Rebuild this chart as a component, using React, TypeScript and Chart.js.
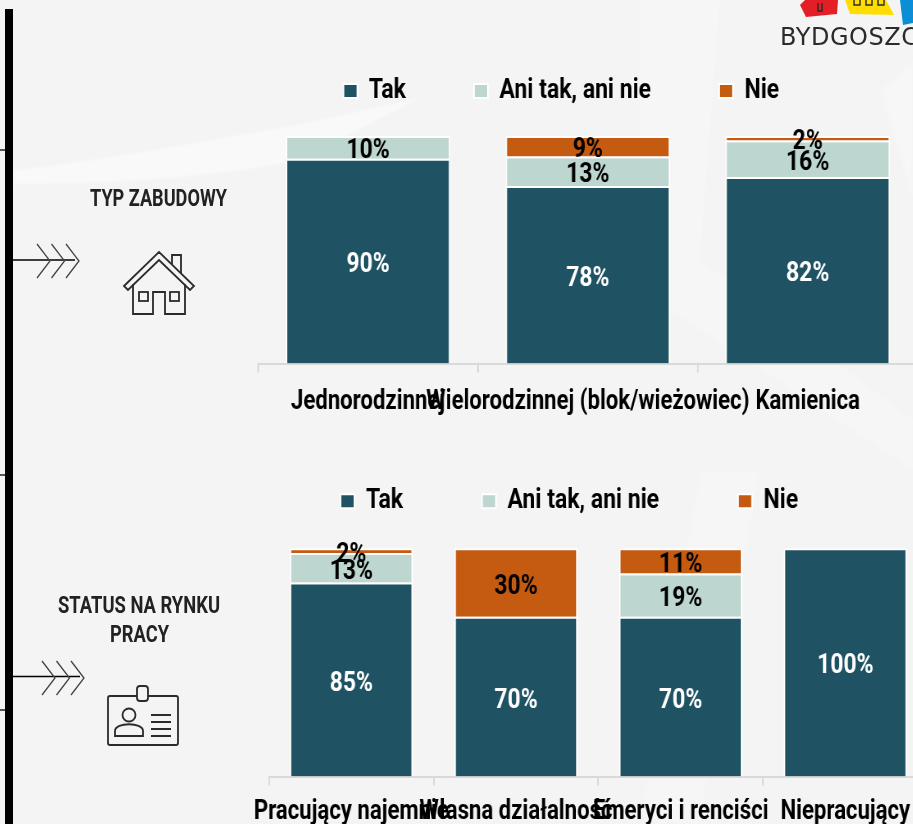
import React, { useEffect, useRef } from "react";
import { Chart, registerables } from "chart.js";

Chart.register(...registerables);

const FONT = 'Roboto, "Liberation Sans", sans-serif';
const K = 0.82; // horizontal squeeze of the whole chart, gives the condensed look of the reference lettering
const seriesNames = ["Tak", "Ani tak, ani nie", "Nie"];
const seriesColors = ["#1F5363", "#BDD6CF", "#C55A11"];

const categoriesA = ["Jednorodzinnej", "Wielorodzinnej (blok/wieżowiec)", "Kamienica"];
const takA = [90, 78, 82];
const aniA = [10, 13, 16];
const nieA = [0, 9, 2];

const categoriesB = ["Pracujący najemnie", "Własna działalność", "Emeryci i renciści", "Niepracujący"];
const takB = [85, 70, 70, 100];
const aniB = [13, 0, 19, 0];
const nieB = [2, 30, 11, 0];

const labelPlugin = {
  id: "segmentLabels",
  afterDatasetsDraw(chart: any) {
    const { ctx } = chart;
    chart.data.datasets.forEach((ds: any, di: number) => {
      chart.getDatasetMeta(di).data.forEach((bar: any, i: number) => {
        const v = ds.data[i];
        if (!v) return;
        ctx.save();
        ctx.font = `700 28px ${FONT}`;
        ctx.textAlign = "center";
        ctx.textBaseline = "middle";
        ctx.fillStyle = di === 0 ? "#ffffff" : "#000000";
        ctx.fillText(`${v}%`, bar.x, (bar.y + bar.base) / 2 + 4);
        ctx.restore();
      });
    });
  },
};

function StackChart(props: {
  categories: string[];
  series: number[][];
  left: number;
  top: number;
  width: number;
  height: number;
  axisGap: number;
  legendGap: number;
  legendExtra: number;
  tickPad: number;
}) {
  const ref = useRef<HTMLCanvasElement>(null);
  const w = Math.round(props.width / K);
  useEffect(() => {
    const extra = {
      id: "legendExtra",
      beforeInit(chart: any) {
        const fit = chart.legend.fit;
        chart.legend.fit = function () {
          fit.call(this);
          this.height += props.legendExtra;
        };
      },
    };
    const chart = new Chart(ref.current as HTMLCanvasElement, {
      type: "bar",
      data: {
        labels: props.categories,
        datasets: props.series.map((data, i) => ({
          label: seriesNames[i],
          data,
          backgroundColor: seriesColors[i],
          borderColor: "#ffffff",
          borderWidth: 2,
          barPercentage: 1,
          categoryPercentage: 0.75,
        })),
      },
      options: {
        responsive: false,
        animation: false,
        layout: { padding: 0 },
        plugins: {
          tooltip: { enabled: false },
          legend: {
            position: "top",
            labels: {
              boxWidth: 17,
              boxHeight: 14,
              padding: props.legendGap / K,
              color: "#000000",
              font: { family: FONT, size: 28, weight: "700" },
            },
          },
        },
        scales: {
          x: {
            stacked: true,
            offset: true,
            afterFit(scale: any) {
              scale.paddingLeft = 0;
              scale.paddingRight = 0;
            },
            grid: {
              display: true,
              drawOnChartArea: false,
              drawTicks: true,
              tickLength: 9,
              color: "#D9D9D9",
              lineWidth: 2,
              offset: true,
            },
            border: { color: "#D9D9D9", width: 2 },
            ticks: {
              autoSkip: false,
              maxRotation: 0,
              minRotation: 0,
              padding: props.tickPad,
              color: "#000000",
              font: { family: FONT, size: 27, weight: "700" },
            },
          },
          y: {
            stacked: true,
            min: 0,
            max: 100,
            ticks: { display: false },
            grid: { display: false },
            border: { display: false },
            afterFit(scale: any) {
              scale.width = props.axisGap / K;
            },
          },
        },
      },
      plugins: [labelPlugin, extra],
    } as any);
    return () => chart.destroy();
  }, []);
  return (
    <div
      style={{
        position: "absolute",
        left: props.left,
        top: props.top,
        width: w,
        height: props.height,
        transform: `scaleX(${K})`,
        transformOrigin: "left top",
      }}
    >
      <canvas ref={ref} width={w} height={props.height} style={{ display: "block", width: w, height: props.height }} />
    </div>
  );
}

function Chevrons({ x, y }: { x: number; y: number }) {
  const offsets = [0, 14.5, 29];
  return (
    <g fill="none" stroke="#444" strokeWidth={1.3}>
      {offsets.map((o) => (
        <path key={o} d={`M${x + o} ${y - 16} L${x + o + 13} ${y + 1} L${x + o} ${y + 18}`} />
      ))}
    </g>
  );
}

function Decor() {
  return (
    <svg width={913} height={824} style={{ position: "absolute", left: 0, top: 0 }}>
      <defs>
        <filter id="soft"><feGaussianBlur stdDeviation="1.5" /></filter>
      </defs>
      <g fill="#FFFFFF" filter="url(#soft)">
        <path d="M14 170 C120 158 220 138 300 124 L420 98 L300 160 C200 180 100 184 14 184 Z" opacity={0.45} />
        <path d="M640 0 L720 0 L700 260 L913 420 L913 470 L640 290 Z" opacity={0.22} />
        <path d="M880 90 L913 60 L913 200 Z" opacity={0.25} />
        <path d="M640 820 L700 470 L760 470 L700 824 Z" opacity={0.18} />
      </g>
      <rect x={5} y={9} width={8} height={815} fill="#000" />
      <g stroke="#000" strokeWidth={1.3}>
        <line x1={0} y1={150} x2={5} y2={150} />
        <line x1={0} y1={475} x2={5} y2={475} />
        <line x1={0} y1={710} x2={5} y2={710} />
        <line x1={13} y1={260} x2={75} y2={260} />
        <line x1={13} y1={676.5} x2={80} y2={676.5} />
      </g>
      <Chevrons x={37} y={260} />
      <Chevrons x={42} y={677} />
      <g fill="none" stroke="#2b2b2b" strokeWidth={1.8}>
        <path d="M124 286 L159 252 L194 286 L190 290 L159 260 L128 290 Z" />
        <path d="M172 264 V255 H181 V273" />
        <path d="M133 284 V314 H153 V292 H165 V314 H185 V284" />
        <rect x={139} y={292} width={9} height={9} />
        <rect x={170} y={292} width={9} height={9} />
      </g>
      <g fill="none" stroke="#2b2b2b" strokeWidth={1.8}>
        <rect x={108} y={696} width={70} height={49} rx={2} />
        <rect x={137} y={686} width={11} height={15} rx={3} fill="#f4f4f4" />
        <circle cx={129} cy={715} r={6.5} />
        <path d="M115 736 V731 C115 722 143 722 143 731 V736 Z" />
        <path d="M151 715 H171 M151 722 H171 M151 729 H171 M151 736 H171" />
      </g>
      <path d="M800 5 L805 0 L838 0 L837 14 L806 17 Z" fill="#E31E26" />
      <path d="M845 0 L886 0 L894 15 L850 14 Z" fill="#FFDD00" />
      <path d="M900 0 L913 0 L913 23 L903 25 Z" fill="#0A8FD6" />
      <g fill="none" stroke="#2b2b2b" strokeWidth={1.4}>
        <path d="M818 3 V11 H822 V3 M854 0 V5 H860 V0 M866 0 V5 H872 V0 M878 0 V5 H884 V0" />
      </g>
      <text x={780} y={45} fontFamily="'DejaVu Sans', sans-serif" fontSize={24} fill="#2b2b2b" textLength={155} lengthAdjust="spacing">
        BYDGOSZCZ
      </text>
      <g fontFamily={FONT} fontWeight={700} fontSize={23} fill="#222">
        <text x={90} y={206} textLength={137} lengthAdjust="spacingAndGlyphs">TYP ZABUDOWY</text>
        <text x={58} y={613} textLength={162} lengthAdjust="spacingAndGlyphs">STATUS NA RYNKU</text>
        <text x={110} y={642} textLength={59} lengthAdjust="spacingAndGlyphs">PRACY</text>
      </g>
    </svg>
  );
}

export default function App() {
  return (
    <div style={{ position: "fixed", left: 0, top: 0, width: 913, height: 824, overflow: "hidden", background: "#F4F4F4" }}>
      <Decor />
      <StackChart
        categories={categoriesA}
        series={[takA, aniA, nieA]}
        left={205.4}
        top={-6}
        width={712.2}
        height={437}
        axisGap={53.1}
        legendGap={68}
        legendExtra={21}
        tickPad={13}
      />
      <StackChart
        categories={categoriesB}
        series={[takB, aniB, nieB]}
        left={210.6}
        top={391}
        width={716.8}
        height={447}
        axisGap={58}
        legendGap={79}
        legendExtra={23}
        tickPad={10}
      />
    </div>
  );
}
